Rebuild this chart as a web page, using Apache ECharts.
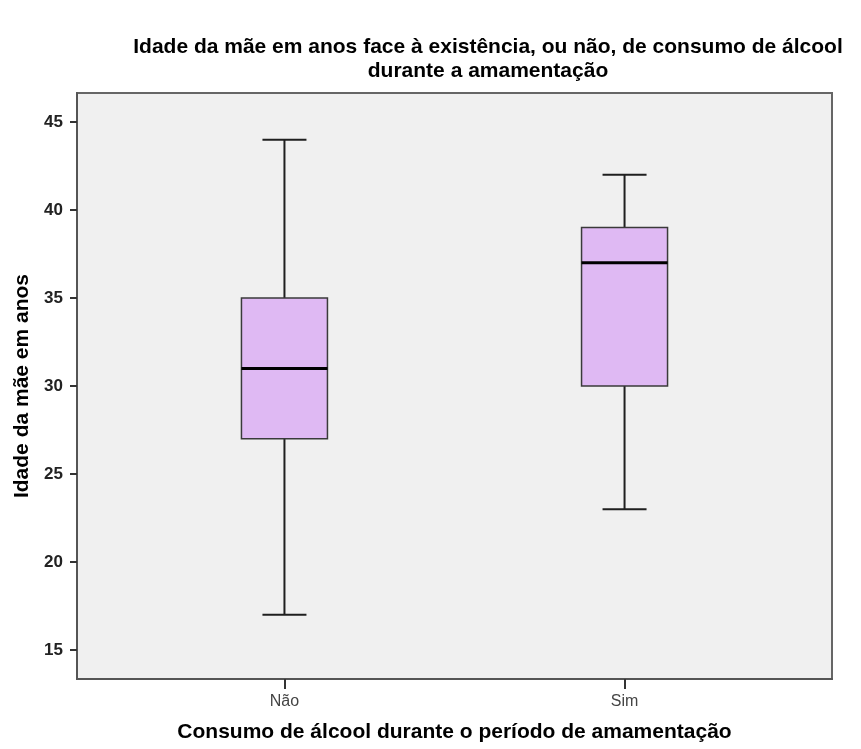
<!DOCTYPE html>
<html>
<head>
<meta charset="utf-8">
<script src="https://cdn.jsdelivr.net/npm/echarts@6/dist/echarts.min.js"></script>
<style>
  html, body { margin: 0; padding: 0; background: #fff; }
  #chart { width: 861px; height: 749px; }
</style>
</head>
<body>
<div id="chart"></div>
<script>
// grupos e estatisticas do boxplot (min, Q1, mediana, Q3, max)
const categorias = ['Não', 'Sim'];
const minimos = [17, 23];
const q1 = [27, 30];
const medianas = [31, 37];
const q3 = [35, 39];
const maximos = [44, 42];
const yTicks = [15, 20, 25, 30, 35, 40, 45];

const dados = categorias.map((c, i) => [i + 1, minimos[i], q1[i], medianas[i], q3[i], maximos[i]]);

const chart = echarts.init(document.getElementById('chart'));

const renderBox = (params, api) => {
  const x = api.value(0);
  const pMin = api.coord([x, api.value(1)]);
  const pQ1 = api.coord([x, api.value(2)]);
  const pMed = api.coord([x, api.value(3)]);
  const pQ3 = api.coord([x, api.value(4)]);
  const pMax = api.coord([x, api.value(5)]);
  const cx = pMin[0];
  const bw = 86, cw = 44;
  const linha = { stroke: '#1f1f1f', lineWidth: 2 };
  return {
    type: 'group',
    children: [
      { type: 'line', shape: { x1: cx, y1: pMax[1], x2: cx, y2: pQ3[1] }, style: linha },
      { type: 'line', shape: { x1: cx, y1: pQ1[1], x2: cx, y2: pMin[1] }, style: linha },
      { type: 'line', shape: { x1: cx - cw / 2, y1: pMax[1], x2: cx + cw / 2, y2: pMax[1] }, style: linha },
      { type: 'line', shape: { x1: cx - cw / 2, y1: pMin[1], x2: cx + cw / 2, y2: pMin[1] }, style: linha },
      { type: 'rect', shape: { x: cx - bw / 2, y: pQ3[1], width: bw, height: pQ1[1] - pQ3[1] },
        style: { fill: '#dfb9f3', stroke: '#3a3a3a', lineWidth: 1.5 } },
      { type: 'line', shape: { x1: cx - bw / 2, y1: pMed[1], x2: cx + bw / 2, y2: pMed[1] },
        style: { stroke: '#000', lineWidth: 3 } }
    ]
  };
};

const option = {
  backgroundColor: '#fff',
  animation: false,
  title: {
    text: 'Idade da mãe em anos face à existência, ou não, de consumo de álcool\ndurante a amamentação',
    left: 483,
    top: 30,
    textAlign: 'center',
    textStyle: {
      fontFamily: 'Liberation Sans, Arial, sans-serif',
      fontSize: 21,
      fontWeight: 'bold',
      color: '#000',
      lineHeight: 24
    }
  },
  grid: {
    left: 77, right: 29, top: 93, bottom: 70,
    show: true,
    backgroundColor: '#f0f0f0',
    borderColor: '#666',
    borderWidth: 2
  },
  xAxis: {
    type: 'value',
    min: 0.39,
    max: 2.61,
    name: 'Consumo de álcool durante o período de amamentação',
    nameLocation: 'middle',
    nameGap: 43,
    nameTextStyle: {
      fontFamily: 'Liberation Sans, Arial, sans-serif',
      fontSize: 21,
      fontWeight: 'bold',
      color: '#000'
    },
    splitLine: { show: false },
    axisLine: { show: true, lineStyle: { color: '#555', width: 2 } },
    axisTick: { show: true, customValues: [1, 2], length: 10, lineStyle: { color: '#333', width: 2 } },
    axisLabel: {
      customValues: [1, 2],
      formatter: v => categorias[Math.round(v) - 1] || '',
      fontFamily: 'Liberation Sans, Arial, sans-serif',
      fontSize: 16,
      color: '#444',
      margin: 15
    }
  },
  yAxis: {
    type: 'value',
    min: 13.35,
    max: 46.65,
    name: 'Idade da mãe em anos',
    nameLocation: 'middle',
    nameGap: 42,
    nameTextStyle: {
      fontFamily: 'Liberation Sans, Arial, sans-serif',
      fontSize: 21,
      fontWeight: 'bold',
      color: '#000'
    },
    splitLine: { show: false },
    axisLine: { show: true, lineStyle: { color: '#555', width: 2 } },
    axisTick: { show: true, customValues: yTicks, length: 7, lineStyle: { color: '#333', width: 2 } },
    axisLabel: {
      customValues: yTicks,
      fontFamily: 'Liberation Sans, Arial, sans-serif',
      fontSize: 17,
      fontWeight: 'bold',
      color: '#222',
      margin: 14
    }
  },
  series: [{
    type: 'custom',
    renderItem: renderBox,
    encode: { x: 0, y: [1, 2, 3, 4, 5] },
    data: dados,
    clip: false
  }]
};

chart.setOption(option);
</script>
</body>
</html>
